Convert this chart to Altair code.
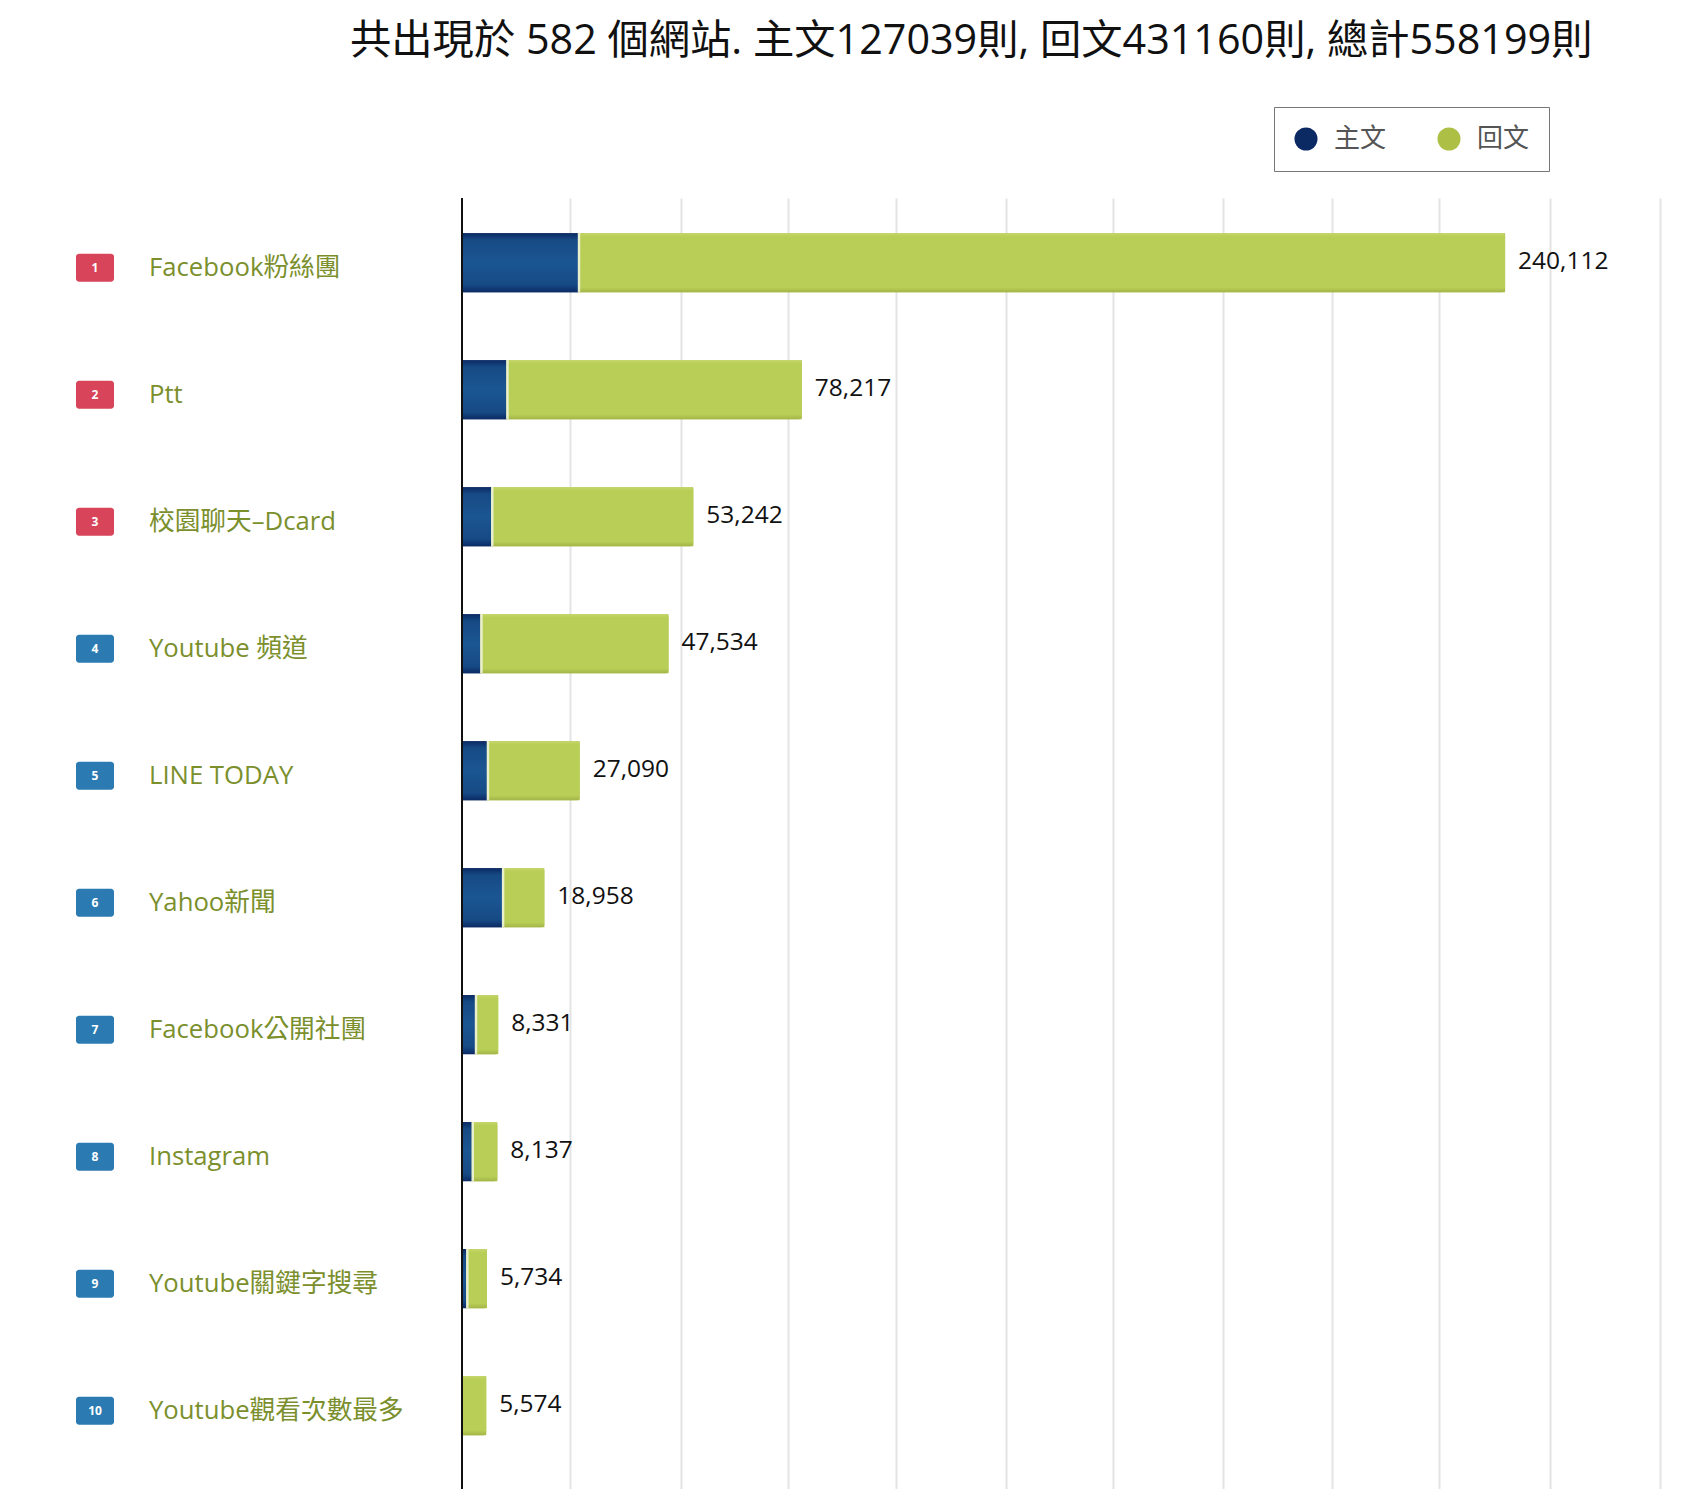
import altair as alt
import pandas as pd

TITLE = "共出現於 582 個網站. 主文127039則, 回文431160則, 總計558199則"
names = ["Facebook粉絲團", "Ptt", "校園聊天–Dcard", "Youtube 頻道", "LINE TODAY",
         "Yahoo新聞", "Facebook公開社團", "Instagram", "Youtube關鍵字搜尋", "Youtube觀看次數最多"]
ranks = [str(i) for i in [1, 2, 3, 4, 5, 6, 7, 8, 9, 10]]
badge_groups = ["top", "top", "top", "rest", "rest", "rest", "rest", "rest", "rest", "rest"]
totals = [240112, 78217, 53242, 47534, 27090, 18958, 8331, 8137, 5734, 5574]
mains = [26700, 10230, 6740, 4240, 5740, 9230, 2990, 2250, 1000, 0]
grid_values = [24775, 50300, 75075, 99850, 125120, 149900, 175170, 200200, 224970, 250500, 275770]

FONT = "Open Sans, Noto Sans CJK TC, sans-serif"
NAVY, GREEN = "#0b2a63", "#aebf45"

df = pd.DataFrame({"name": names, "rank": ranks, "group": badge_groups, "total": totals, "main": mains})
df["label"] = df["total"].map(lambda v: f"{v:,}")
long_df = pd.concat([
    df.assign(series="主文", start=0, end=df["main"]),
    df.assign(series="回文", start=df["main"], end=df["total"]),
])

y = alt.Y("name:N", axis=None, sort=names,
          scale=alt.Scale(domain=names, paddingInner=0.5354, paddingOuter=0.3504, align=0.395))
x = alt.X("start:Q", axis=alt.Axis(values=grid_values, labels=False, ticks=False, domain=False, title=None,
                                   grid=True, gridColor="#e4e4e4", gridWidth=2),
          scale=alt.Scale(domain=[0, 275770], nice=False))

base = alt.Chart(long_df).mark_bar(cornerRadiusTopRight=0).encode(
    y=y, x=x, x2="end:Q",
    color=alt.Color("series:N", scale=alt.Scale(domain=["主文", "回文"], range=[NAVY, GREEN]),
                    legend=alt.Legend(orient="none", legendX=812, legendY=-91, direction="horizontal", columns=2,
                                      title=None, symbolType="circle", symbolSize=530, symbolStrokeWidth=0,
                                      labelFont=FONT, labelFontSize=26, labelColor="#555555", labelOffset=15,
                                      columnPadding=49, padding=19, strokeColor="#777777", fillColor="#ffffff",
                                      symbolOpacity=1)),
)

def grad(stops):
    return alt.Gradient(gradient="linear", x1=0, x2=0, y1=0, y2=1,
                        stops=[alt.GradientStop(offset=o, color=c) for o, c in stops])

navy_bar = alt.Chart(df).mark_bar(
    color=grad([(0, "#0b2a63"), (0.12, "#164a85"), (0.5, "#1b5692"), (0.88, "#164a85"), (1, "#0b2a63")])
).encode(y=y, x=alt.X("main:Q"), x2=alt.datum(0))

green_bar = alt.Chart(df).mark_bar(
    cornerRadiusTopRight=3, cornerRadiusBottomRight=3,
    color=grad([(0, "#c6d76a"), (0.06, "#b8ce56"), (0.92, "#b8ce56"), (1, "#a3b548")])
).encode(y=y, x=alt.X("main:Q"), x2="total:Q")

gap = alt.Chart(df[df["main"] > 0]).mark_tick(color="#ffffff", thickness=2.5, size=59, xOffset=1).encode(
    y=y, x=alt.X("main:Q"))

axis_line = alt.Chart(df).mark_rule(color="#111111", strokeWidth=2).encode(x=alt.datum(0))

value_labels = alt.Chart(df).mark_text(font=FONT, fontSize=24.5, color="#111111", align="left", dx=13, dy=-1).encode(
    y=y, x=alt.X("total:Q"), text="label:N")

badges = alt.Chart(df).mark_rect(cornerRadius=3, height=28, yOffset=5).encode(
    y=y, x=alt.value(-386), x2=alt.value(-348),
    color=alt.Color("group:N", scale=alt.Scale(domain=["top", "rest"], range=["#d8445a", "#2b7bb2"]), legend=None))

badge_text = alt.Chart(df).mark_text(font=FONT, fontSize=12, fontWeight="bold", color="#ffffff", dy=5).encode(
    y=y, x=alt.value(-367), text="rank:N")

name_labels = alt.Chart(df).mark_text(font=FONT, fontSize=25.7, color="#7b8f2d", align="left", dy=5).encode(
    y=y, x=alt.value(-313), text="name:N")

title = alt.Chart(df.head(1)).mark_text(font=FONT, fontSize=41.3, color="#111111", align="left", text=TITLE).encode(
    x=alt.value(-112), y=alt.value(-156))

chart = alt.layer(base, navy_bar, green_bar, gap, axis_line, value_labels, badges, badge_text, name_labels, title
                  ).resolve_scale(color="independent").properties(
    width=1198, height=1291, background="#ffffff",
    padding={"left": 454, "top": 190, "right": 30, "bottom": 0},
    autosize=alt.AutoSizeParams(type="none"),
).configure_view(stroke=None)

chart.save("out.html", embed_options={"renderer": "svg", "actions": False})
